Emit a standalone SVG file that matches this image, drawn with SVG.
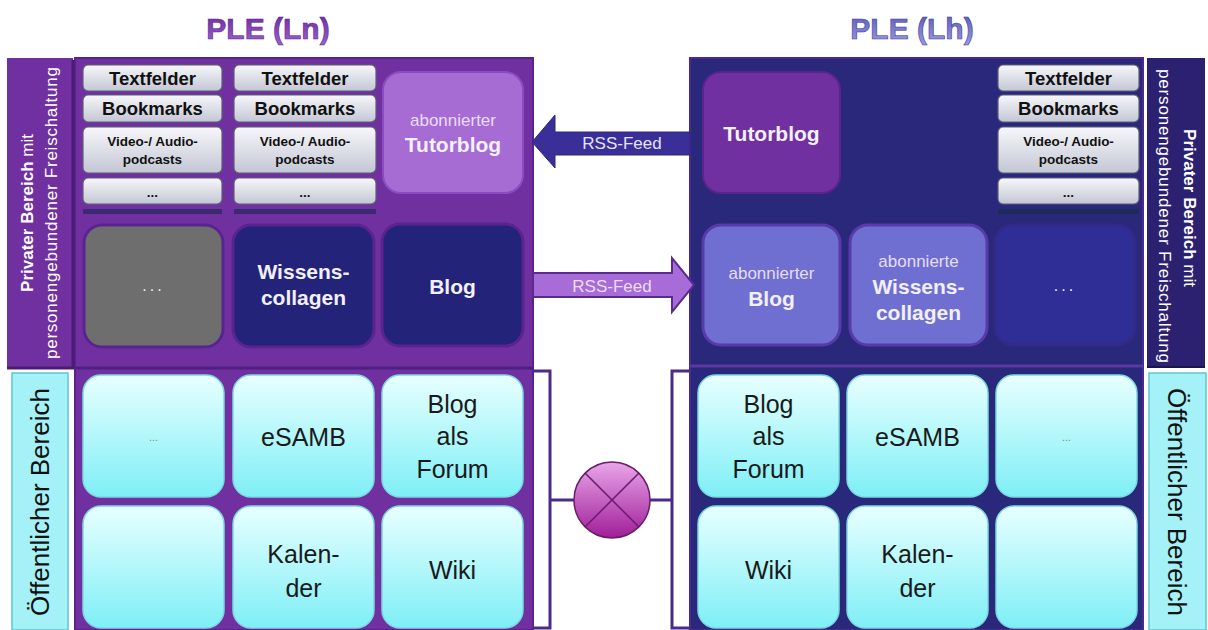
<svg xmlns="http://www.w3.org/2000/svg" width="1208" height="630" viewBox="0 0 1208 630">
<defs>
<linearGradient id="gStack" x1="0" y1="0" x2="0" y2="1"><stop offset="0" stop-color="#f7f7fa"/><stop offset="1" stop-color="#c3c7d4"/></linearGradient>
<linearGradient id="gTile" x1="0" y1="0" x2="0" y2="1"><stop offset="0" stop-color="#e8ffff"/><stop offset="1" stop-color="#7eeff6"/></linearGradient>
<linearGradient id="gCircle" x1="0" y1="0" x2="0" y2="1"><stop offset="0" stop-color="#e9a6ea"/><stop offset="1" stop-color="#a01e98"/></linearGradient>
<linearGradient id="gT1" x1="0" y1="0" x2="0" y2="1"><stop offset="0" stop-color="#6a2aa0"/><stop offset="1" stop-color="#9a62cc"/></linearGradient>
<linearGradient id="gT2" x1="0" y1="0" x2="0" y2="1"><stop offset="0" stop-color="#5a5ab8"/><stop offset="1" stop-color="#9a9ae6"/></linearGradient>
<style>
text{font-family:"Liberation Sans",Arial,sans-serif;}
.stack{fill:url(#gStack);stroke:#5c5e78;stroke-width:1.2;}
.st{font-weight:bold;font-size:18.5px;fill:#111;text-anchor:middle;}
.ss{font-weight:bold;font-size:13.5px;fill:#111;text-anchor:middle;}
.tile{fill:url(#gTile);stroke:#7ad8e2;stroke-width:1.5;}
.tt{font-size:25px;fill:#1a1a1a;text-anchor:middle;}
.box{stroke-width:3;}
.wb{font-weight:bold;font-size:21px;fill:#f2f0fa;text-anchor:middle;}
.wl{font-size:17px;fill:#e6ddf6;text-anchor:middle;}
.lab{fill:#a4f1f7;stroke:#5ec6cf;stroke-width:1.5;}
.lt{font-size:26px;fill:#111;text-anchor:middle;}
.pv{font-size:17px;fill:#fff;text-anchor:middle;}
.pt{font-size:17px;fill:#fff;text-anchor:middle;}
.br{fill:none;stroke:#4b2a8a;stroke-width:3;}
.bar{fill:#3a2a70;}
</style>
</defs>
<rect width="1208" height="630" fill="#ffffff"/>

<g id="title-ln"><text x="268" y="39" font-size="30" font-weight="bold" fill="url(#gT1)" text-anchor="middle" stroke="#5a2090" stroke-width="0.6">PLE (Ln)</text></g>
<g id="title-lh"><text x="912" y="39" font-size="30" font-weight="bold" fill="url(#gT2)" text-anchor="middle" stroke="#3a3a90" stroke-width="0.6">PLE (Lh)</text></g>

<g id="panel-ln">
<rect x="75" y="58" width="458" height="572" fill="#7030a0" stroke="#5a2290" stroke-width="2"/>
<line x1="75" y1="368" x2="533" y2="368" stroke="#4e1f80" stroke-width="3"/>
</g>
<g id="label-ln-private">
<rect x="7" y="58" width="66" height="310" fill="#7030a0"/>
<path d="M73,60 V368 H7" fill="none" stroke="#4a1c72" stroke-width="3"/>
<text transform="translate(33,213) rotate(-90)" class="pv"><tspan font-weight="bold">Privater Bereich</tspan> mit</text>
<text transform="translate(57,213) rotate(-90)" class="pt" textLength="292" lengthAdjust="spacing">personengebundener Freischaltung</text>
</g>
<g id="label-ln-public">
<rect x="12" y="373" width="56" height="257" class="lab"/>
<text transform="translate(49,502) rotate(-90)" class="lt">Öffentlicher Bereich</text>
</g>

<g id="stack-ln-1">
<rect x="83" y="65" width="139" height="26" rx="5" class="stack"/><text x="152.5" y="84.5" class="st">Textfelder</text>
<rect x="83" y="95" width="139" height="27" rx="5" class="stack"/><text x="152.5" y="115" class="st">Bookmarks</text>
<rect x="83" y="127" width="139" height="46" rx="5" class="stack"/><text x="152.5" y="146" class="ss">Video-/ Audio-</text><text x="152.5" y="164" class="ss">podcasts</text>
<rect x="83" y="178" width="139" height="26" rx="5" class="stack"/><text x="152.5" y="197" class="ss">...</text>
<rect x="83" y="209" width="139" height="5" class="bar"/>
</g>
<g id="stack-ln-2">
<rect x="234" y="65" width="142" height="26" rx="5" class="stack"/><text x="305" y="84.5" class="st">Textfelder</text>
<rect x="234" y="95" width="142" height="27" rx="5" class="stack"/><text x="305" y="115" class="st">Bookmarks</text>
<rect x="234" y="127" width="142" height="46" rx="5" class="stack"/><text x="305" y="146" class="ss">Video-/ Audio-</text><text x="305" y="164" class="ss">podcasts</text>
<rect x="234" y="178" width="142" height="26" rx="5" class="stack"/><text x="305" y="197" class="ss">...</text>
<rect x="234" y="209" width="142" height="5" class="bar"/>
</g>
<g id="ln-tutorblog">
<rect x="383" y="72" width="140" height="121" rx="18" fill="#a66cd3" stroke="#8a4cc0" stroke-width="2"/>
<text x="453" y="126" class="wl">abonnierter</text>
<text x="453" y="152" class="wb">Tutorblog</text>
</g>
<g id="ln-more">
<rect x="84" y="225" width="139" height="122" rx="18" fill="#6e6e6e" stroke="#5a2490" class="box"/>
<text x="153.5" y="291" font-size="16" fill="#eee" text-anchor="middle" letter-spacing="3">...</text>
</g>
<g id="ln-wissens">
<rect x="233" y="225" width="141" height="122" rx="18" fill="#23237a" stroke="#5a2490" class="box"/>
<text x="303.5" y="279" class="wb">Wissens-</text>
<text x="303.5" y="305" class="wb">collagen</text>
</g>
<g id="ln-blog">
<rect x="382" y="224" width="141" height="122" rx="18" fill="#23237a" stroke="#5a2490" class="box"/>
<text x="452.5" y="294" class="wb" font-size="23">Blog</text>
</g>

<g id="ln-pub-more"><rect x="83" y="375" width="141" height="122" rx="18" class="tile"/><text x="153.5" y="441" font-size="11" fill="#888" text-anchor="middle">...</text></g>
<g id="ln-esamb"><rect x="233" y="375" width="141" height="122" rx="18" class="tile"/><text x="303.5" y="446" class="tt">eSAMB</text></g>
<g id="ln-forum"><rect x="382" y="375" width="141" height="122" rx="18" class="tile"/><text x="452.5" y="413" class="tt">Blog</text><text x="452.5" y="445" class="tt">als</text><text x="452.5" y="478" class="tt">Forum</text></g>
<g id="ln-empty"><rect x="83" y="506" width="141" height="122" rx="18" class="tile"/></g>
<g id="ln-kalender"><rect x="233" y="506" width="141" height="122" rx="18" class="tile"/><text x="303.5" y="563" class="tt">Kalen-</text><text x="303.5" y="597" class="tt">der</text></g>
<g id="ln-wiki"><rect x="382" y="506" width="141" height="122" rx="18" class="tile"/><text x="452.5" y="579" class="tt">Wiki</text></g>

<g id="panel-lh">
<rect x="690" y="58" width="453" height="572" fill="#29287a" stroke="#4a2a90" stroke-width="2"/>
<line x1="690" y1="366" x2="1143" y2="366" stroke="#5a3aa0" stroke-width="3"/>
</g>
<g id="label-lh-private">
<rect x="1147" y="58" width="58" height="310" fill="#2c2070"/>
<line x1="1147" y1="367" x2="1205" y2="367" stroke="#1a1450" stroke-width="2"/>
<text transform="translate(1184,208) rotate(90)" class="pv"><tspan font-weight="bold">Privater Bereich</tspan> mit</text>
<text transform="translate(1159,216) rotate(90)" class="pt" textLength="294" lengthAdjust="spacing">personengebundener Freischaltung</text>
</g>
<g id="label-lh-public">
<rect x="1149" y="373" width="57" height="257" class="lab"/>
<text transform="translate(1168,502) rotate(90)" class="lt">Öffentlicher Bereich</text>
</g>

<g id="lh-tutorblog">
<rect x="703" y="72" width="137" height="121" rx="18" fill="#7030a0" stroke="#5a2490" stroke-width="2"/>
<text x="771.5" y="141" class="wb" font-size="20">Tutorblog</text>
</g>
<g id="stack-lh">
<rect x="998" y="65" width="141" height="26" rx="5" class="stack"/><text x="1068.5" y="84.5" class="st">Textfelder</text>
<rect x="998" y="95" width="141" height="27" rx="5" class="stack"/><text x="1068.5" y="115" class="st">Bookmarks</text>
<rect x="998" y="127" width="141" height="46" rx="5" class="stack"/><text x="1068.5" y="146" class="ss">Video-/ Audio-</text><text x="1068.5" y="164" class="ss">podcasts</text>
<rect x="998" y="178" width="141" height="26" rx="5" class="stack"/><text x="1068.5" y="197" class="ss">...</text>
<rect x="998" y="209" width="141" height="5" fill="#1e2a5a"/>
</g>
<g id="lh-blog">
<rect x="703" y="225" width="137" height="120" rx="18" fill="#6f6fd2" stroke="#5a3aa8" class="box"/>
<text x="771.5" y="279" class="wl">abonnierter</text>
<text x="771.5" y="306" class="wb" font-size="23">Blog</text>
</g>
<g id="lh-wissens">
<rect x="850" y="225" width="137" height="120" rx="18" fill="#6f6fd2" stroke="#5a3aa8" class="box"/>
<text x="918.5" y="267" class="wl">abonnierte</text>
<text x="918.5" y="294" class="wb">Wissens-</text>
<text x="918.5" y="320" class="wb">collagen</text>
</g>
<g id="lh-more">
<rect x="995" y="225" width="140" height="120" rx="18" fill="#2e2e96" stroke="#332a88" class="box"/>
<text x="1065" y="291" font-size="16" fill="#eee" text-anchor="middle" letter-spacing="3">...</text>
</g>

<g id="lh-forum"><rect x="698" y="375" width="141" height="122" rx="18" class="tile"/><text x="768.5" y="413" class="tt">Blog</text><text x="768.5" y="445" class="tt">als</text><text x="768.5" y="478" class="tt">Forum</text></g>
<g id="lh-esamb"><rect x="847" y="375" width="141" height="122" rx="18" class="tile"/><text x="917.5" y="446" class="tt">eSAMB</text></g>
<g id="lh-pub-more"><rect x="996" y="375" width="141" height="122" rx="18" class="tile"/><text x="1066.5" y="441" font-size="11" fill="#888" text-anchor="middle">...</text></g>
<g id="lh-wiki"><rect x="698" y="506" width="141" height="122" rx="18" class="tile"/><text x="768.5" y="579" class="tt">Wiki</text></g>
<g id="lh-kalender"><rect x="847" y="506" width="141" height="122" rx="18" class="tile"/><text x="917.5" y="563" class="tt">Kalen-</text><text x="917.5" y="597" class="tt">der</text></g>
<g id="lh-empty"><rect x="996" y="506" width="141" height="122" rx="18" class="tile"/></g>

<g id="exchange">
<circle cx="612" cy="500" r="38" fill="url(#gCircle)" stroke="#6a1a6a" stroke-width="1.5"/>
<line x1="585" y1="473" x2="639" y2="527" stroke="#6a1a70" stroke-width="1.5"/>
<line x1="639" y1="473" x2="585" y2="527" stroke="#6a1a70" stroke-width="1.5"/>
</g>

<g id="connectors">
<polygon points="690,132 555,132 555,115 532,142 555,168 555,155 690,155" fill="#3a2e98" stroke="#2e2580" stroke-width="1"/>
<text x="622" y="149" font-size="17" fill="#e4e4fa" text-anchor="middle">RSS-Feed</text>
<polygon points="533,273 672,273 672,258 694,285 672,312 672,297 533,297" fill="#a86cd8" stroke="#5a2a90" stroke-width="2"/>
<text x="612" y="292" font-size="17" fill="#ecdcf6" text-anchor="middle">RSS-Feed</text>
<path class="br" d="M533,371 H550 V628 H533"/>
<path class="br" d="M550,500 H574"/>
<path class="br" d="M689,371 H672 V628 H689"/>
<path class="br" d="M672,500 H650"/>
</g>
</svg>
